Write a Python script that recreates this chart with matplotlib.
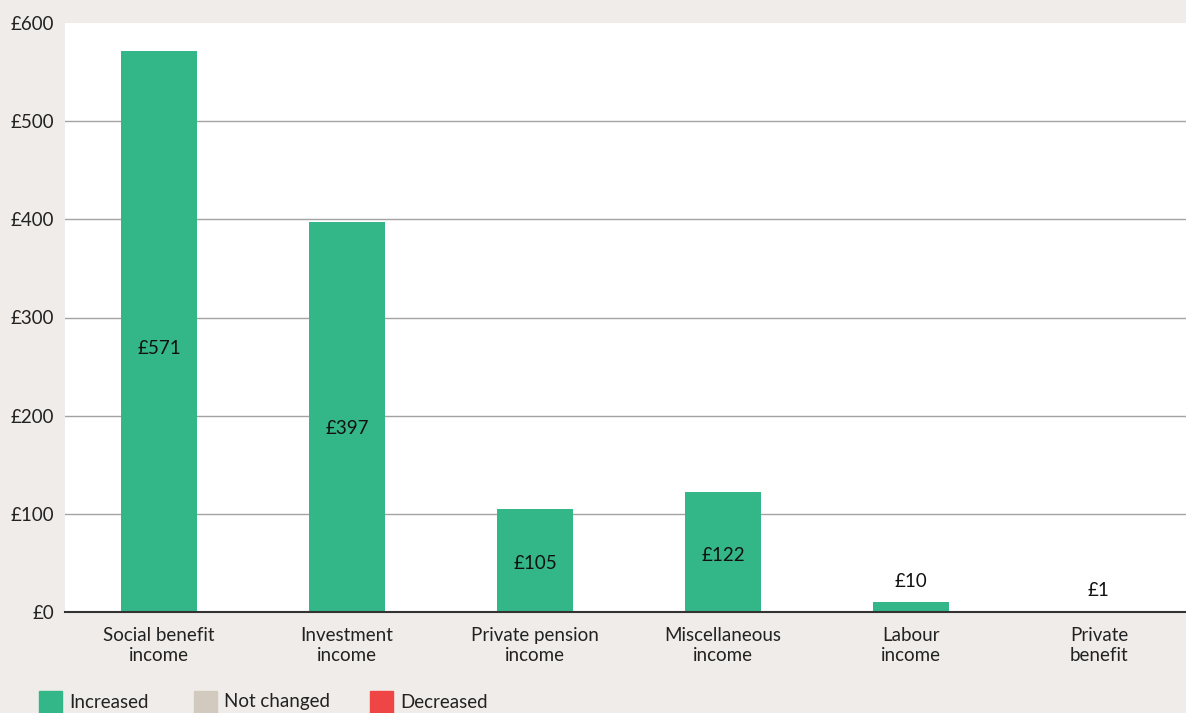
import matplotlib.pyplot as plt
from matplotlib.patches import Rectangle

categories = ["Social benefit\nincome", "Investment\nincome", "Private pension\nincome",
              "Miscellaneous\nincome", "Labour\nincome", "Private\nbenefit"]
values = [571, 397, 105, 122, 10, 1]
yticks = [0, 100, 200, 300, 400, 500, 600]
legend_labels = ["Increased", "Not changed", "Decreased"]
legend_colors = ["#33b789", "#d2c9bf", "#ef4545"]

BG = "#f0ece9"
GREEN = "#33b789"
FONT = ["Lato", "DejaVu Sans"]
plt.rcParams["font.family"] = FONT
FS = 13.5

W, H = 1186, 713
fig = plt.figure(figsize=(W / 100, H / 100), dpi=100, facecolor=BG)
ax = fig.add_axes([65 / W, (H - 612) / H, 1128 / W, 589 / H])
ax.set_facecolor("white")

x = list(range(len(categories)))
ax.bar(x, values, width=0.405, color=GREEN, zorder=3)

ax.set_xlim(-0.5, len(categories) - 0.5)
ax.set_ylim(0, 600)
ax.set_yticks(yticks)
ax.set_yticklabels([f"£{v}" for v in yticks], fontsize=FS, color="#222222")
ax.set_xticks(x)
ax.set_xticklabels(categories, fontsize=FS, color="#222222", linespacing=1.2)
ax.tick_params(axis="both", length=0, pad=8)
ax.tick_params(axis="x", pad=11)

for v in yticks[1:-1]:
    ax.axhline(v, color="#a3a3a3", lw=1.0, zorder=1)
for s in ["top", "right", "left"]:
    ax.spines[s].set_visible(False)
ax.spines["bottom"].set_color("#333333")
ax.spines["bottom"].set_linewidth(1.5)
ax.spines["bottom"].set_zorder(4)

# value labels: inside tall bars, above short ones
for xi, v in zip(x, values):
    if v >= 50:
        ax.text(xi, v * 0.47, f"£{v}", ha="center", va="center", fontsize=FS,
                color="#111111", zorder=5)
    else:
        ax.annotate(f"£{v}", (xi, v), xytext=(0, 15), textcoords="offset points",
                    ha="center", va="center", fontsize=FS, color="#111111")

# legend along the bottom edge
lx = [39, 194, 370]
for px, lab, col in zip(lx, legend_labels, legend_colors):
    fig.patches.append(Rectangle((px / W, -10 / H), 23 / W, 32 / H,
                                 transform=fig.transFigure, color=col,
                                 clip_on=False))
    fig.text((px + 30) / W, (H - 702) / H, lab, ha="left", va="center",
             fontsize=FS, color="#222222")

fig.savefig("out.png", dpi=100, facecolor=BG)
